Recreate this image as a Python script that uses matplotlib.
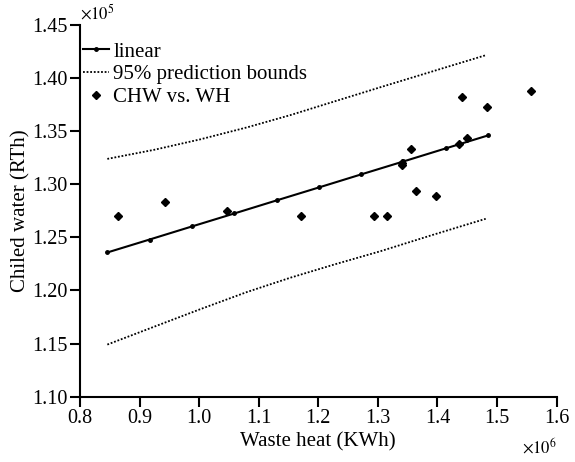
import numpy as np
import matplotlib
matplotlib.use("Agg")
import matplotlib.pyplot as plt

plt.rcParams['font.family'] = ['Liberation Serif', 'DejaVu Serif']
plt.rcParams['mathtext.fontset'] = 'stix'

# data in units of 1e6 KWh (x) and 1e5 RTh (y)
wh = [0.864, 0.943, 1.047, 1.171, 1.293, 1.315, 1.340, 1.341, 1.355,
      1.364, 1.398, 1.437, 1.441, 1.450, 1.484, 1.557]
chw = [1.270, 1.283, 1.275, 1.270, 1.270, 1.270, 1.318, 1.320, 1.333,
       1.294, 1.289, 1.3375, 1.382, 1.344, 1.373, 1.388]

fit_x = [0.846, 0.917, 0.988, 1.059, 1.130, 1.201, 1.272, 1.343, 1.414, 1.485]
fit_y = [1.2358, 1.2480, 1.2603, 1.2725, 1.2848, 1.2970, 1.3093, 1.3215, 1.3338, 1.3460]

bnd_x = [0.846, 0.925, 1.002, 1.080, 1.153, 1.230, 1.3045, 1.390, 1.481]
upper = [1.3239, 1.3325, 1.3423, 1.3535, 1.3651, 1.3785, 1.3914, 1.4060, 1.4215]
lower = [1.1491, 1.1660, 1.1824, 1.1985, 1.2120, 1.2250, 1.2370, 1.2520, 1.2675]

fig = plt.figure(figsize=(5.75, 4.62), dpi=100)
ax = fig.add_axes([0.139, 0.1413, 0.829, 0.8047])

ax.plot(fit_x, fit_y, '-', color='black', lw=1.5, marker='o', ms=2.5, label='linear')
ax.plot(bnd_x, upper, color='black', lw=1.3, ls=(0, (1, 1)), label='95% prediction bounds')
ax.plot(bnd_x, lower, color='black', lw=1.3, ls=(0, (1, 1)))
ax.plot(wh, chw, 'D', color='black', ms=4.5, ls='none', label='CHW vs. WH')

ax.set_xlim(0.8, 1.6)
ax.set_ylim(1.10, 1.45)
ax.set_xticks(np.arange(0.8, 1.61, 0.1))
ax.set_yticks(np.arange(1.10, 1.451, 0.05))
ax.set_xticklabels(['%.1f' % v for v in np.arange(0.8, 1.61, 0.1)])
ax.set_yticklabels(['%.2f' % v for v in np.arange(1.10, 1.451, 0.05)])
ax.tick_params(direction='out', length=7, width=1.5, labelsize=14.5, colors='black')
ax.tick_params(axis='x', pad=2)
ax.tick_params(axis='y', pad=2)

for s in ['top', 'right']:
    ax.spines[s].set_visible(False)
for s in ['left', 'bottom']:
    ax.spines[s].set_linewidth(1.5)

ax.set_xlabel('Waste heat (KWh)', fontsize=15, labelpad=3)
ax.set_ylabel('Chiled water (RTh)', fontsize=15, labelpad=1)

ax.text(0.0, 1.005, r'$\times 10^5$', transform=ax.transAxes, fontsize=12,
        ha='left', va='bottom')
ax.text(1.0, -0.11, r'$\times 10^6$', transform=ax.transAxes, fontsize=12,
        ha='right', va='top')

leg = ax.legend(loc='upper left', frameon=False, fontsize=15, handlelength=1.25,
                handletextpad=0.2, labelspacing=0.15, borderaxespad=0.0,
                borderpad=0.15, bbox_to_anchor=(0.0, 0.962))

fig.savefig('out.png', dpi=100)
